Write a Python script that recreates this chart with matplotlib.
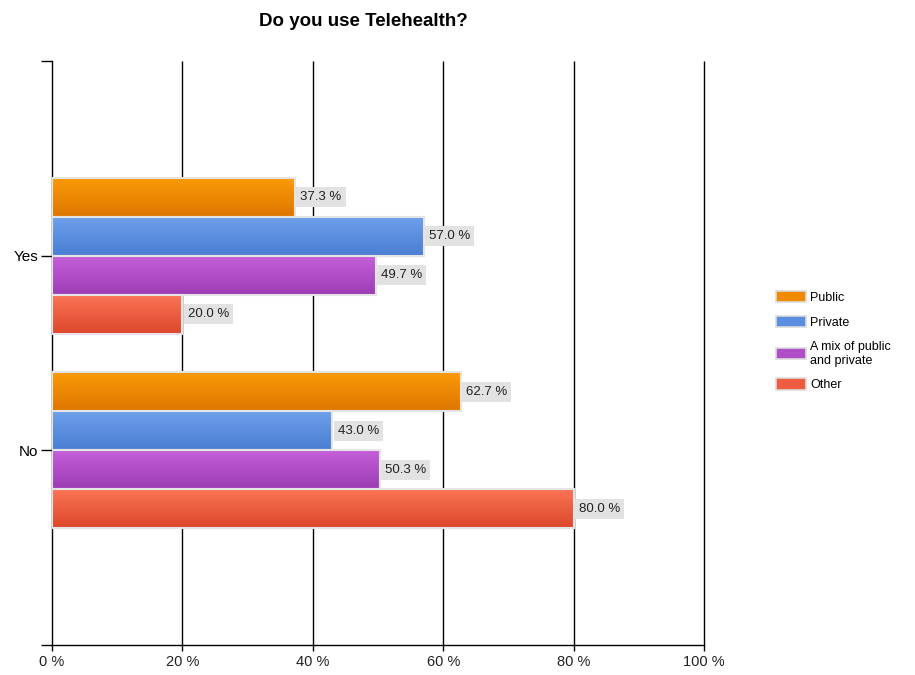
import matplotlib.pyplot as plt
import numpy as np
from matplotlib.colors import LinearSegmentedColormap
from matplotlib.patches import Patch

plt.rcParams['font.family'] = ['Liberation Sans', 'DejaVu Sans']

TITLE = 'Do you use Telehealth?'
categories = ['Yes', 'No']
series = ['Public', 'Private', 'A mix of public\nand private', 'Other']
values = {
    'Public': [37.3, 62.7],
    'Private': [57.0, 43.0],
    'A mix of public\nand private': [49.7, 50.3],
    'Other': [20.0, 80.0],
}
x_ticks = [0, 20, 40, 60, 80, 100]

# top / bottom colour of each bar gradient
colors = [
    ('#fa9a08', '#de7600'),
    ('#6d9fea', '#4a7ed2'),
    ('#c45fd8', '#9c3db4'),
    ('#fa7455', '#dd472c'),
]
legend_colors = ['#f08a00', '#5a8ee0', '#b04ec8', '#ee5c40']

BAR_H = 0.2

fig = plt.figure(figsize=(9.15, 6.75), dpi=100)
ax = fig.add_axes([52 / 915, 30 / 675, 652 / 915, 584 / 675])

grad = np.linspace(0, 1, 64).reshape(-1, 1)
y_pos = np.arange(len(categories))

for si, name in enumerate(series):
    cmap = LinearSegmentedColormap.from_list('g', colors[si])
    offset = (si - 1.5) * BAR_H
    for ci, v in enumerate(values[name]):
        yc = y_pos[ci] + offset
        y0, y1 = yc - BAR_H / 2, yc + BAR_H / 2
        ax.imshow(grad, cmap=cmap, aspect='auto', extent=(0, v, y1, y0),
                  zorder=3, interpolation='bilinear')
        ax.add_patch(plt.Rectangle((0, y0), v, BAR_H, fill=False,
                                   edgecolor='#e4e4e4', lw=1.5, zorder=4))
        ax.text(v + 0.8, yc, f'{v:.1f} %', va='center', ha='left',
                fontsize=9.5, color='#222222', zorder=5,
                bbox=dict(boxstyle='square,pad=0.3', fc='#e2e2e2', ec='none'))

ax.set_xlim(0, 100)
ax.set_ylim(2, -1)
ax.set_xticks(x_ticks)
ax.set_xticklabels([f'{t} %' for t in x_ticks])
ax.set_yticks(y_pos)
ax.set_yticklabels(categories)
ax.set_yticks([-1, 2], minor=True)
ax.tick_params(axis='y', which='both', length=8, width=1, labelsize=11, pad=2)
ax.tick_params(axis='x', length=4, width=1, labelsize=10.5, pad=3,
               colors='black', labelcolor='#222222')

# vertical grid lines, drawn unclipped so the 100 % line shows in full
ax.vlines(x_ticks[1:], -1, 2, colors='black', lw=1, zorder=1, clip_on=False)
for s in ['top', 'right']:
    ax.spines[s].set_visible(False)
for s in ['left', 'bottom']:
    ax.spines[s].set_color('black')
    ax.spines[s].set_linewidth(1)

handles = [Patch(facecolor=c, edgecolor='#dcdcdc', lw=1.2) for c in legend_colors]
fig.legend(handles, series, loc='upper left', bbox_to_anchor=(765 / 915, 1 - 280 / 675),
           frameon=False, fontsize=9, handlelength=2.4, handleheight=1.0,
           handletextpad=0.3, labelspacing=0.95)

fig.text(363 / 915, 1 - 21 / 675, TITLE, ha='center', va='center',
         fontsize=13.5, fontweight='bold')

fig.savefig('out.png', dpi=100)
